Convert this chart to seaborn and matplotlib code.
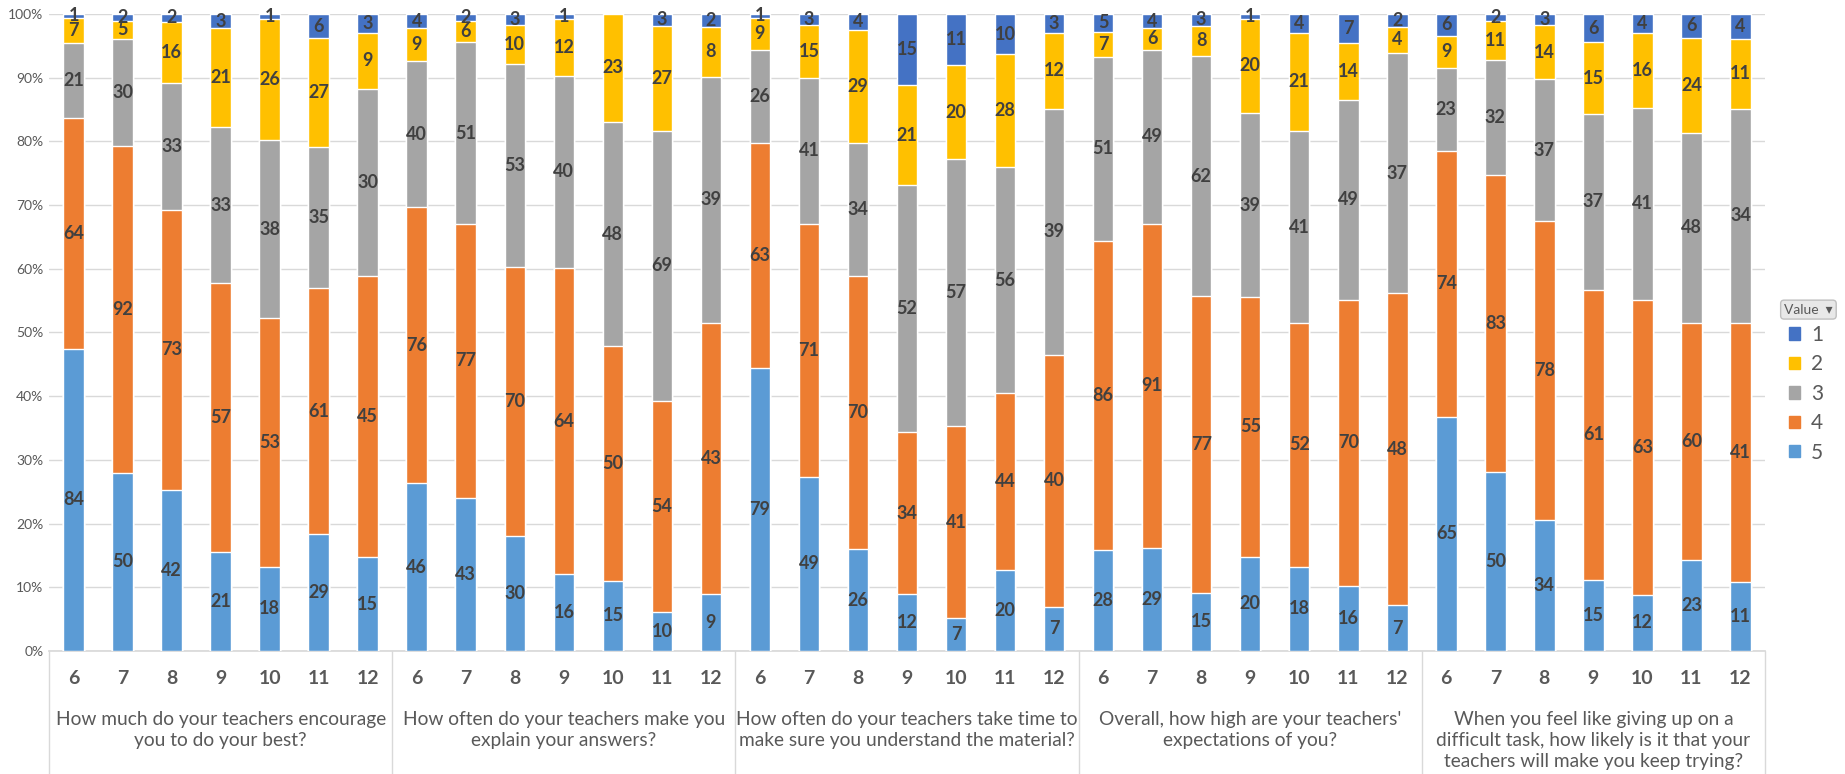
import numpy as np
import pandas as pd
import seaborn as sns
import matplotlib.pyplot as plt
from matplotlib.patches import Patch
import matplotlib.transforms as mtransforms

# questions (groups) and grades
questions = [
    "How much do your teachers encourage\nyou to do your best?",
    "How often do your teachers make you\nexplain your answers?",
    "How often do your teachers take time to\nmake sure you understand the material?",
    "Overall, how high are your teachers'\nexpectations of you?",
    "When you feel like giving up on a\ndifficult task, how likely is it that your\nteachers will make you keep trying?",
]
grades = ["6", "7", "8", "9", "10", "11", "12"]

# counts per answer value, 7 grades per question, questions one after another
v5 = [84, 50, 42, 21, 18, 29, 15,
      46, 43, 30, 16, 15, 10, 9,
      79, 49, 26, 12, 7, 20, 7,
      28, 29, 15, 20, 18, 16, 7,
      65, 50, 34, 15, 12, 23, 11]
v4 = [64, 92, 73, 57, 53, 61, 45,
      76, 77, 70, 64, 50, 54, 43,
      63, 71, 70, 34, 41, 44, 40,
      86, 91, 77, 55, 52, 70, 48,
      74, 83, 78, 61, 63, 60, 41]
v3 = [21, 30, 33, 33, 38, 35, 30,
      40, 51, 53, 40, 48, 69, 39,
      26, 41, 34, 52, 57, 56, 39,
      51, 49, 62, 39, 41, 49, 37,
      23, 32, 37, 37, 41, 48, 34]
v2 = [7, 5, 16, 21, 26, 27, 9,
      9, 6, 10, 12, 23, 27, 8,
      9, 15, 29, 21, 20, 28, 12,
      7, 6, 8, 20, 21, 14, 4,
      9, 11, 14, 15, 16, 24, 11]
v1 = [1, 2, 2, 3, 1, 6, 3,
      4, 2, 3, 1, 0, 3, 2,
      1, 3, 4, 15, 11, 10, 3,
      5, 4, 3, 1, 4, 7, 2,
      6, 2, 3, 6, 4, 6, 4]

values = ["5", "4", "3", "2", "1"]
colors = {"1": "#4472C4", "2": "#FFC000", "3": "#A5A5A5", "4": "#ED7D31", "5": "#5B9BD5"}

df = pd.DataFrame({"5": v5, "4": v4, "3": v3, "2": v2, "1": v1})
df["key"] = [f"q{q}-{g}" for q in range(len(questions)) for g in grades]
df["grade"] = [g for q in range(len(questions)) for g in grades]
total = df[values].sum(axis=1)
pct = df[values].div(total, axis=0) * 100
cum = pct.cumsum(axis=1)  # cum["1"] == 100
for v in values:
    df["cum" + v] = cum[v]

sns.set_theme(style="white")
plt.rcParams["font.family"] = ["Lato", "DejaVu Sans"]

fig = plt.figure(figsize=(18.45, 7.74), dpi=100)
ax = fig.add_axes([0.0266, 0.159, 0.93, 0.823])

order = list(df["key"])
# draw tallest cumulative first, then overlay shorter ones
for v in ["1", "2", "3", "4", "5"]:
    sns.barplot(data=df, x="key", y="cum" + v, order=order, color=colors[v],
                width=0.42, errorbar=None, saturation=1, ax=ax, zorder=3)

# data labels in segment centres
for i in range(len(df)):
    low = 0
    for v in values:
        high = cum.loc[i, v]
        n = df.loc[i, v]
        if n > 0:
            ax.text(i, (low + high) / 2, str(n), ha="center", va="center",
                    fontsize=13, fontweight="bold", color="#404040", zorder=5)
        low = high

ax.set_xlim(-0.5, len(df) - 0.5)
ax.set_ylim(0, 100)
ax.set_yticks(range(0, 101, 10))
ax.set_yticklabels([f"{t}%" for t in range(0, 101, 10)], fontsize=10, color="#595959")
ax.yaxis.grid(True, color="#D9D9D9", linewidth=1, zorder=0)
ax.set_axisbelow(True)
ax.set_xticks(range(len(df)))
ax.set_xticklabels(df["grade"], fontsize=14, fontweight="bold", color="#595959")
ax.tick_params(axis="x", length=0, pad=14)
ax.tick_params(axis="y", length=0, pad=4)
ax.set_xlabel("")
ax.set_ylabel("")
for s in ["top", "right", "left"]:
    ax.spines[s].set_visible(False)
ax.spines["bottom"].set_color("#D9D9D9")

# group separators and question labels
trans = mtransforms.blended_transform_factory(ax.transData, ax.transAxes)
for k in range(len(questions) + 1):
    xs = k * 7 - 0.5
    ax.plot([xs, xs], [0, -0.2], transform=trans, color="#D9D9D9",
            linewidth=1, clip_on=False)
for k, q in enumerate(questions):
    ax.text(k * 7 + 3, -0.094, q, transform=trans, ha="center", va="top",
            fontsize=13.8, color="#595959", linespacing=1.3)

# legend
handles = [Patch(color=colors[v], label=v) for v in ["1", "2", "3", "4", "5"]]
leg = fig.legend(handles=handles, loc="upper left", bbox_to_anchor=(0.9696, 0.58),
                 frameon=False, fontsize=15, handlelength=0.55, handleheight=0.55,
                 labelspacing=0.45, handletextpad=0.5, labelcolor="#595959",
                 borderpad=0, borderaxespad=0)
fig.text(0.967, 0.6, "Value  \u25BE", fontsize=10, color="#595959", va="center",
         bbox=dict(boxstyle="round,pad=0.25", fc="#E8E8E8", ec="#BFBFBF"))

fig.savefig("out.png", dpi=100)
